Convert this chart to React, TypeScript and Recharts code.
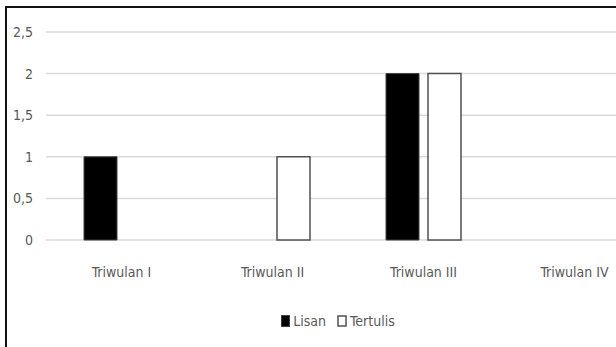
import React from "react";
import { BarChart, Bar, XAxis, YAxis, CartesianGrid, Legend } from "recharts";

const categories = ["Triwulan I", "Triwulan II", "Triwulan III", "Triwulan IV"];
const lisan = [1, 0, 2, 0];
const tertulis = [0, 1, 2, 0];
const yTicks = [0, 0.5, 1, 1.5, 2, 2.5];

const data = categories.map((name, i) => ({ name, Lisan: lisan[i], Tertulis: tertulis[i] }));

const FONT = '"Liberation Sans Narrow", "DejaVu Sans Condensed", "Liberation Sans", sans-serif';
const TEXT = "#595959";
const SIZE = 14;

const fmt = (v: number) => String(v).replace(".", ",");

const LegendContent = () => (
  <div
    style={{
      display: "flex",
      justifyContent: "center",
      alignItems: "center",
      height: 20,
      fontFamily: FONT,
      fontSize: SIZE,
      color: TEXT,
    }}
  >
    <svg width={9} height={12} style={{ marginRight: 3 }}>
      <rect x={0.5} y={0.5} width={8} height={11} fill="#000" stroke="#404040" />
    </svg>
    <span style={{ marginRight: 11 }}>Lisan</span>
    <svg width={10} height={12} style={{ marginRight: 3 }}>
      <rect x={1} y={1} width={8} height={10} fill="#fff" stroke="#505050" strokeWidth={1.5} />
    </svg>
    <span>Tertulis</span>
  </div>
);

export default function App() {
  return (
    <div
      style={{
        position: "fixed",
        left: 0,
        top: 0,
        width: 616,
        height: 347,
        overflow: "hidden",
        background: "#fff",
      }}
    >
      <BarChart
        width={676}
        height={347}
        data={data}
        margin={{ top: 32, right: 26, bottom: 16, left: 0 }}
        barGap={9}
        barSize={33}
      >
        <CartesianGrid vertical={false} stroke="#d9d9d9" strokeWidth={1.5} />
        <XAxis
          dataKey="name"
          axisLine={false}
          tickLine={false}
          tickSize={0}
          tickMargin={27}
          height={71}
          interval={0}
          tick={{ fill: TEXT, fontSize: SIZE, fontFamily: FONT }}
        />
        <YAxis
          width={46}
          domain={[0, 2.5]}
          ticks={yTicks}
          axisLine={false}
          tickLine={false}
          tickSize={0}
          tickMargin={13}
          tickFormatter={fmt}
          tick={{ fill: TEXT, fontSize: SIZE, fontFamily: FONT }}
        />
        <Legend
          verticalAlign="bottom"
          content={LegendContent}
          wrapperStyle={{ left: 0, width: 676, height: 20 }}
        />
        <Bar dataKey="Lisan" fill="#000" stroke="#404040" strokeWidth={1} isAnimationActive={false} />
        <Bar dataKey="Tertulis" fill="#fff" stroke="#505050" strokeWidth={1.5} isAnimationActive={false} />
      </BarChart>
      <div
        style={{
          position: "absolute",
          left: 5,
          top: 6,
          right: -10,
          bottom: -10,
          borderTop: "2px solid #111",
          borderLeft: "2px solid #111",
          pointerEvents: "none",
        }}
      />
    </div>
  );
}
